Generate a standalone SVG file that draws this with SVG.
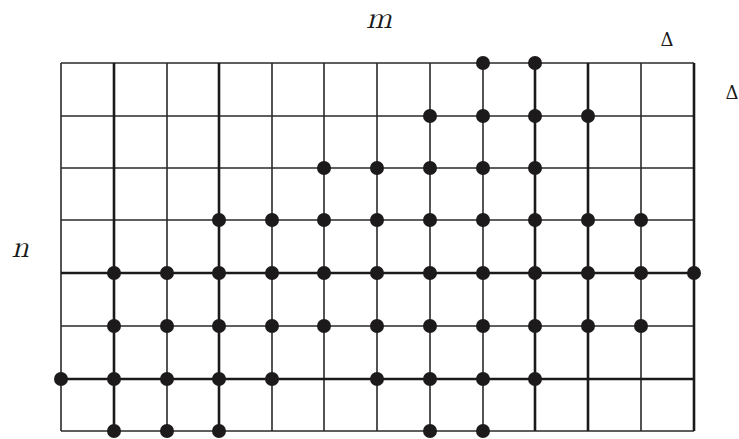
<svg xmlns="http://www.w3.org/2000/svg" width="739" height="439" viewBox="0 0 739 439">
<style>
.g{stroke:#2a2a2a;stroke-width:1.6;fill:none}
.t{stroke:#1a1a1a;stroke-width:2.6;fill:none}
.d{fill:#1c1a1a}
.lbl{font-family:"Latin Modern Math","Liberation Serif",serif;font-style:italic;font-size:31px;fill:#1a1a1a}
.dl{font-family:"DejaVu Serif","Liberation Serif",serif;font-size:18px;fill:#1a1a1a}
</style>
<rect width="739" height="439" fill="#fff"/>
<g id="grid">
<path class="g" d="M61 63V431M167 63V431M272 63V431M324 63V431M377 63V431M430 63V431M483 63V431M641 63V431M61 63H694M61 116H694M61 168H694M61 220H694M61 326H694M61 431H694"/>
<path class="t" d="M114 63V431M219 63V431M535 63V431M588 63V431M694 63V431M61 273H694M61 379H694"/>
</g>
<g id="dots" class="d">
<circle cx="483" cy="63" r="7"/><circle cx="535" cy="63" r="7"/>
<circle cx="430" cy="116" r="7"/><circle cx="483" cy="116" r="7"/><circle cx="535" cy="116" r="7"/><circle cx="588" cy="116" r="7"/>
<circle cx="324" cy="168" r="7"/><circle cx="377" cy="168" r="7"/><circle cx="430" cy="168" r="7"/><circle cx="483" cy="168" r="7"/><circle cx="535" cy="168" r="7"/>
<circle cx="219" cy="220" r="7"/><circle cx="272" cy="220" r="7"/><circle cx="324" cy="220" r="7"/><circle cx="377" cy="220" r="7"/><circle cx="430" cy="220" r="7"/><circle cx="483" cy="220" r="7"/><circle cx="535" cy="220" r="7"/><circle cx="588" cy="220" r="7"/><circle cx="641" cy="220" r="7"/>
<circle cx="114" cy="273" r="7"/><circle cx="167" cy="273" r="7"/><circle cx="219" cy="273" r="7"/><circle cx="272" cy="273" r="7"/><circle cx="324" cy="273" r="7"/><circle cx="377" cy="273" r="7"/><circle cx="430" cy="273" r="7"/><circle cx="483" cy="273" r="7"/><circle cx="535" cy="273" r="7"/><circle cx="588" cy="273" r="7"/><circle cx="641" cy="273" r="7"/><circle cx="694" cy="273" r="7"/>
<circle cx="114" cy="326" r="7"/><circle cx="167" cy="326" r="7"/><circle cx="219" cy="326" r="7"/><circle cx="272" cy="326" r="7"/><circle cx="324" cy="326" r="7"/><circle cx="377" cy="326" r="7"/><circle cx="430" cy="326" r="7"/><circle cx="483" cy="326" r="7"/><circle cx="535" cy="326" r="7"/><circle cx="588" cy="326" r="7"/><circle cx="641" cy="326" r="7"/>
<circle cx="61" cy="379" r="7"/><circle cx="114" cy="379" r="7"/><circle cx="167" cy="379" r="7"/><circle cx="219" cy="379" r="7"/><circle cx="272" cy="379" r="7"/><circle cx="377" cy="379" r="7"/><circle cx="430" cy="379" r="7"/><circle cx="483" cy="379" r="7"/><circle cx="535" cy="379" r="7"/>
<circle cx="114" cy="431" r="7"/><circle cx="167" cy="431" r="7"/><circle cx="219" cy="431" r="7"/><circle cx="430" cy="431" r="7"/><circle cx="483" cy="431" r="7"/>
</g>
<g id="labels">
<text class="lbl" x="379" y="28" text-anchor="middle">m</text>
<text class="lbl" x="20" y="257" text-anchor="middle">n</text>
<text class="dl" x="667" y="46" text-anchor="middle">Δ</text>
<text class="dl" x="732" y="99" text-anchor="middle">Δ</text>
</g>
</svg>
